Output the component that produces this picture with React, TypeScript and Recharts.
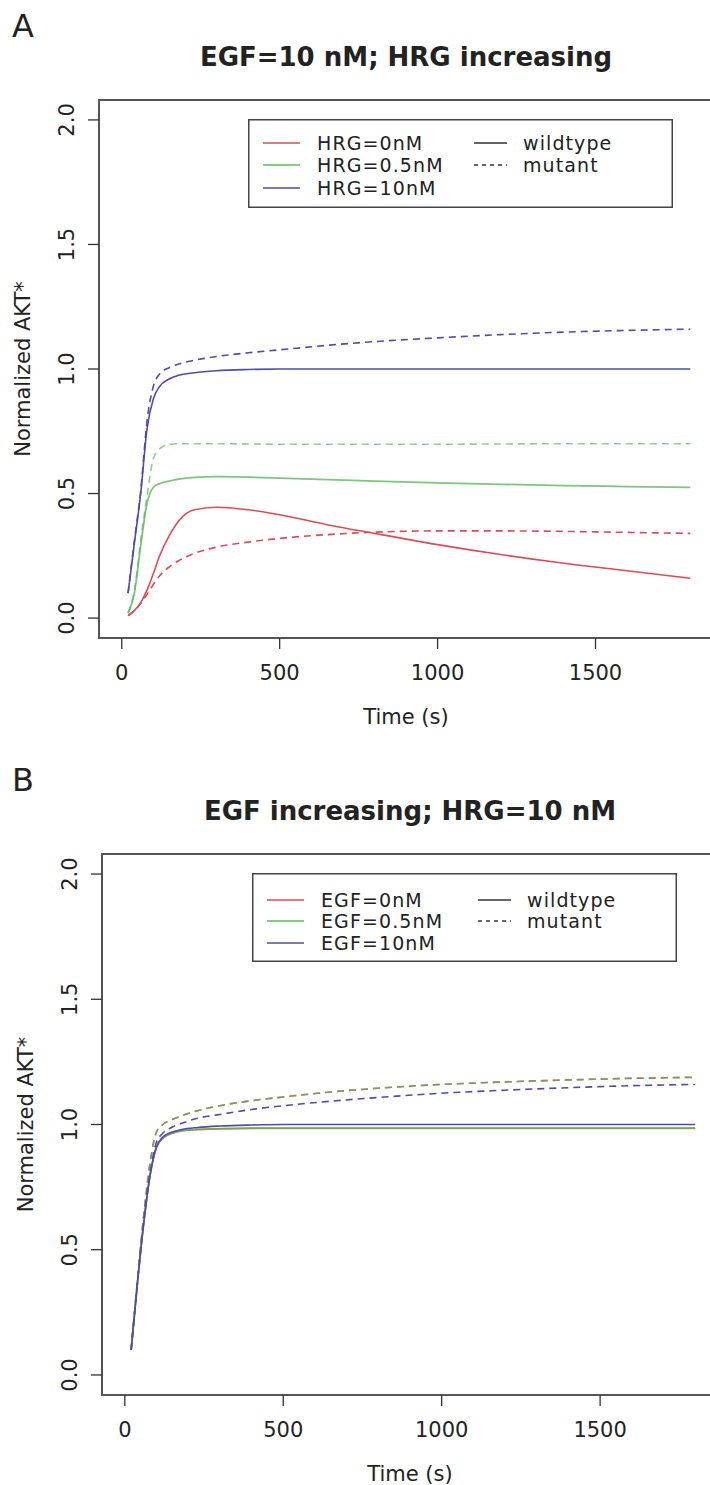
import { LineChart, Line, XAxis, YAxis, ReferenceArea, Label } from "recharts";

// time points (s) shared by all curves
const TIME = [20, 40, 60, 80, 100, 120, 150, 180, 230, 300, 400, 500, 650, 800, 1000, 1200, 1400, 1600, 1800];

// panel A: EGF=10 nM, HRG increasing
const A_RED_WT = [0.01, 0.03, 0.062, 0.112, 0.178, 0.25, 0.33, 0.39, 0.435, 0.445, 0.435, 0.415, 0.375, 0.34, 0.295, 0.255, 0.22, 0.19, 0.16];
const A_RED_MUT = [0.01, 0.03, 0.058, 0.095, 0.135, 0.17, 0.205, 0.23, 0.26, 0.285, 0.305, 0.32, 0.335, 0.345, 0.35, 0.35, 0.348, 0.344, 0.34];
const A_GREEN_WT = [0.02, 0.1, 0.29, 0.46, 0.525, 0.54, 0.55, 0.558, 0.565, 0.568, 0.566, 0.562, 0.556, 0.55, 0.543, 0.537, 0.532, 0.528, 0.525];
const A_GREEN_MUT = [0.02, 0.11, 0.31, 0.49, 0.64, 0.68, 0.697, 0.7, 0.7, 0.7, 0.699, 0.698, 0.698, 0.698, 0.698, 0.699, 0.7, 0.7, 0.7];
const A_BLUE_WT = [0.1, 0.3, 0.5, 0.76, 0.88, 0.93, 0.96, 0.975, 0.985, 0.993, 0.998, 1.0, 1.0, 1.0, 1.0, 1.0, 1.0, 1.0, 1.0];
const A_BLUE_MUT = [0.1, 0.31, 0.51, 0.79, 0.93, 0.98, 1.005, 1.02, 1.035, 1.05, 1.065, 1.077, 1.095, 1.11, 1.125, 1.138, 1.148, 1.155, 1.16];

// panel B: EGF increasing, HRG=10 nM
const B_RED_WT = [0.1, 0.37, 0.61, 0.8, 0.91, 0.945, 0.965, 0.975, 0.98, 0.983, 0.985, 0.985, 0.985, 0.985, 0.985, 0.985, 0.985, 0.985, 0.985];
const B_RED_MUT = [0.1, 0.38, 0.64, 0.85, 0.97, 1.0, 1.02, 1.035, 1.055, 1.075, 1.095, 1.11, 1.13, 1.145, 1.16, 1.17, 1.178, 1.184, 1.188];
const B_GREEN_WT = [0.1, 0.37, 0.61, 0.8, 0.91, 0.945, 0.965, 0.975, 0.98, 0.983, 0.985, 0.985, 0.985, 0.985, 0.985, 0.985, 0.985, 0.985, 0.985];
const B_GREEN_MUT = [0.1, 0.38, 0.64, 0.85, 0.97, 1.0, 1.02, 1.035, 1.055, 1.075, 1.095, 1.11, 1.13, 1.145, 1.16, 1.17, 1.178, 1.185, 1.19];
const B_BLUE_WT = [0.1, 0.37, 0.61, 0.8, 0.91, 0.95, 0.97, 0.98, 0.988, 0.994, 0.998, 1.0, 1.0, 1.0, 1.0, 1.0, 1.0, 1.0, 1.0];
const B_BLUE_MUT = [0.1, 0.37, 0.62, 0.81, 0.93, 0.965, 0.99, 1.005, 1.025, 1.04, 1.06, 1.075, 1.093, 1.108, 1.125, 1.137, 1.147, 1.155, 1.16];

const X_TICKS = [0, 500, 1000, 1500];
const Y_TICKS = [0, 0.5, 1, 1.5, 2];
const A_LEVELS = ["HRG=0nM", "HRG=0.5nM", "HRG=10nM"];
const B_LEVELS = ["EGF=0nM", "EGF=0.5nM", "EGF=10nM"];
const TYPES = ["wildtype", "mutant"];

const RED = "#dd4b55";
const GREEN = "#5cb85c";
const BLUE = "#4d4daa";
const FONT = "'DejaVu Sans', sans-serif";

function rows(red: number[], redM: number[], green: number[], greenM: number[], blue: number[], blueM: number[]) {
  return TIME.map((t, i) => ({
    t,
    redWt: red[i],
    redMut: redM[i],
    greenWt: green[i],
    greenMut: greenM[i],
    blueWt: blue[i],
    blueMut: blueM[i],
  }));
}

const A_DATA = rows(A_RED_WT, A_RED_MUT, A_GREEN_WT, A_GREEN_MUT, A_BLUE_WT, A_BLUE_MUT);
const B_DATA = rows(B_RED_WT, B_RED_MUT, B_GREEN_WT, B_GREEN_MUT, B_BLUE_WT, B_BLUE_MUT);

function Legend2({ left, top, levels, rowY }: any) {
  const colors = [RED, GREEN, BLUE];
  const txt = { fontSize: 19, fontFamily: FONT, fill: "#222", letterSpacing: 1.1 };
  return (
    <svg
      width={425}
      height={90}
      style={{ position: "absolute", left, top, overflow: "visible" }}
    >
      <rect x={0.75} y={0.75} width={423.5} height={87.5} fill="#fff" stroke="#444" strokeWidth={1.5} />
      {levels.map((l: string, i: number) => (
        <g key={l}>
          <line x1={15} x2={52} y1={rowY[i]} y2={rowY[i]} stroke={colors[i]} strokeWidth={1.5} />
          <text x={69} y={rowY[i]} dominantBaseline="central" style={txt}>
            {l}
          </text>
        </g>
      ))}
      {TYPES.map((l, i) => (
        <g key={l}>
          <line
            x1={226}
            x2={259}
            y1={rowY[i]}
            y2={rowY[i]}
            stroke="#333"
            strokeWidth={1.3}
            strokeDasharray={i === 1 ? "4 4" : undefined}
          />
          <text x={275} y={rowY[i]} dominantBaseline="central" style={txt}>
            {l}
          </text>
        </g>
      ))}
    </svg>
  );
}

function Panel({ top, data, axisW, plotH, letter, title, levels, legendTop, legendLeft, rowY }: any) {
  const plotW = axisW === 99 ? 614 : 616;
  const yTick = (p: any) => (
    <text
      x={axisW - 32}
      y={p.y}
      transform={`rotate(-90 ${axisW - 32} ${p.y})`}
      textAnchor="middle"
      dominantBaseline="central"
      fontSize={21}
      fontFamily={FONT}
      fill="#222"
    >
      {Number(p.payload.value).toFixed(1)}
    </text>
  );
  const dash = "7 5";
  return (
    <>
      <div style={{ position: "absolute", left: 12, top: top - 90, fontSize: 32, fontFamily: FONT, color: "#222", lineHeight: "32px" }}>
        {letter}
      </div>
      <div
        style={{
          position: "absolute",
          left: axisW,
          width: plotW,
          top: top - 57,
          textAlign: "center",
          fontSize: 26,
          fontWeight: "bold",
          fontFamily: FONT,
          color: "#222",
          lineHeight: "28px",
        }}
      >
        {title}
      </div>
      <div style={{ position: "absolute", left: 0, top: top - 100 }}>
        <LineChart
          width={axisW + plotW + 1}
          height={100 + plotH + 100}
          data={data}
          margin={{ top: 100, right: 1, bottom: 0, left: 0 }}
        >
          <XAxis
            dataKey="t"
            type="number"
            domain={[-72, 1872]}
            ticks={X_TICKS}
            allowDataOverflow
            axisLine={false}
            tickSize={11}
            tickMargin={16}
            tickLine={{ stroke: "#333", strokeWidth: 1.3 }}
            tick={{ fontSize: 21, fontFamily: FONT, fill: "#222" }}
            height={100}
          >
            <Label
              content={(p: any) => (
                <text
                  x={p.viewBox.x + p.viewBox.width / 2}
                  y={p.viewBox.y + 79}
                  textAnchor="middle"
                  dominantBaseline="central"
                  fontSize={21}
                  fontFamily={FONT}
                  fill="#222"
                >
                  Time (s)
                </text>
              )}
            />
          </XAxis>
          <YAxis
            type="number"
            domain={[-0.08, 2.08]}
            ticks={Y_TICKS}
            allowDataOverflow
            axisLine={false}
            width={axisW}
            tickSize={11}
            tickLine={{ stroke: "#333", strokeWidth: 1.3 }}
            tick={yTick}
          >
            <Label
              content={(p: any) => {
                const cx = axisW - 76;
                const cy = p.viewBox.y + p.viewBox.height / 2;
                return (
                  <text
                    x={cx}
                    y={cy}
                    transform={`rotate(-90 ${cx} ${cy})`}
                    textAnchor="middle"
                    dominantBaseline="central"
                    fontSize={21}
                    fontFamily={FONT}
                    fill="#222"
                  >
                    Normalized AKT*
                  </text>
                );
              }}
            />
          </YAxis>
          <ReferenceArea x1={-72} x2={1872} y1={-0.08} y2={2.08} fill="none" stroke="#555" strokeWidth={2} ifOverflow="visible" />
          <Line dataKey="redWt" type="monotone" stroke={RED} strokeWidth={1.6} dot={false} isAnimationActive={false} />
          <Line dataKey="redMut" type="monotone" stroke={RED} strokeWidth={1.6} strokeDasharray={dash} dot={false} isAnimationActive={false} />
          <Line dataKey="greenWt" type="monotone" stroke={GREEN} strokeWidth={1.8} strokeOpacity={0.8} dot={false} isAnimationActive={false} />
          <Line dataKey="greenMut" type="monotone" stroke={GREEN} strokeWidth={1.6} strokeOpacity={0.7} strokeDasharray={dash} dot={false} isAnimationActive={false} />
          <Line dataKey="blueWt" type="monotone" stroke={BLUE} strokeWidth={1.6} dot={false} isAnimationActive={false} />
          <Line dataKey="blueMut" type="monotone" stroke={BLUE} strokeWidth={1.6} strokeDasharray={dash} dot={false} isAnimationActive={false} />
        </LineChart>
      </div>
      <Legend2 left={legendLeft} top={legendTop} levels={levels} rowY={rowY} />
    </>
  );
}

export default function App() {
  return (
    <div
      style={{
        position: "absolute",
        left: 0,
        top: 0,
        width: 710,
        height: 1485,
        overflow: "hidden",
        background: "#fff",
      }}
    >
      <Panel
        top={100}
        data={A_DATA}
        axisW={99}
        plotH={538}
        letter="A"
        title="EGF=10 nM; HRG increasing"
        levels={A_LEVELS}
        legendLeft={248}
        legendTop={119}
        rowY={[24, 46, 69]}
      />
      <Panel
        top={854}
        data={B_DATA}
        axisW={102}
        plotH={541}
        letter="B"
        title="EGF increasing; HRG=10 nM"
        levels={B_LEVELS}
        legendLeft={252}
        legendTop={873}
        rowY={[27, 48, 70]}
      />
    </div>
  );
}
